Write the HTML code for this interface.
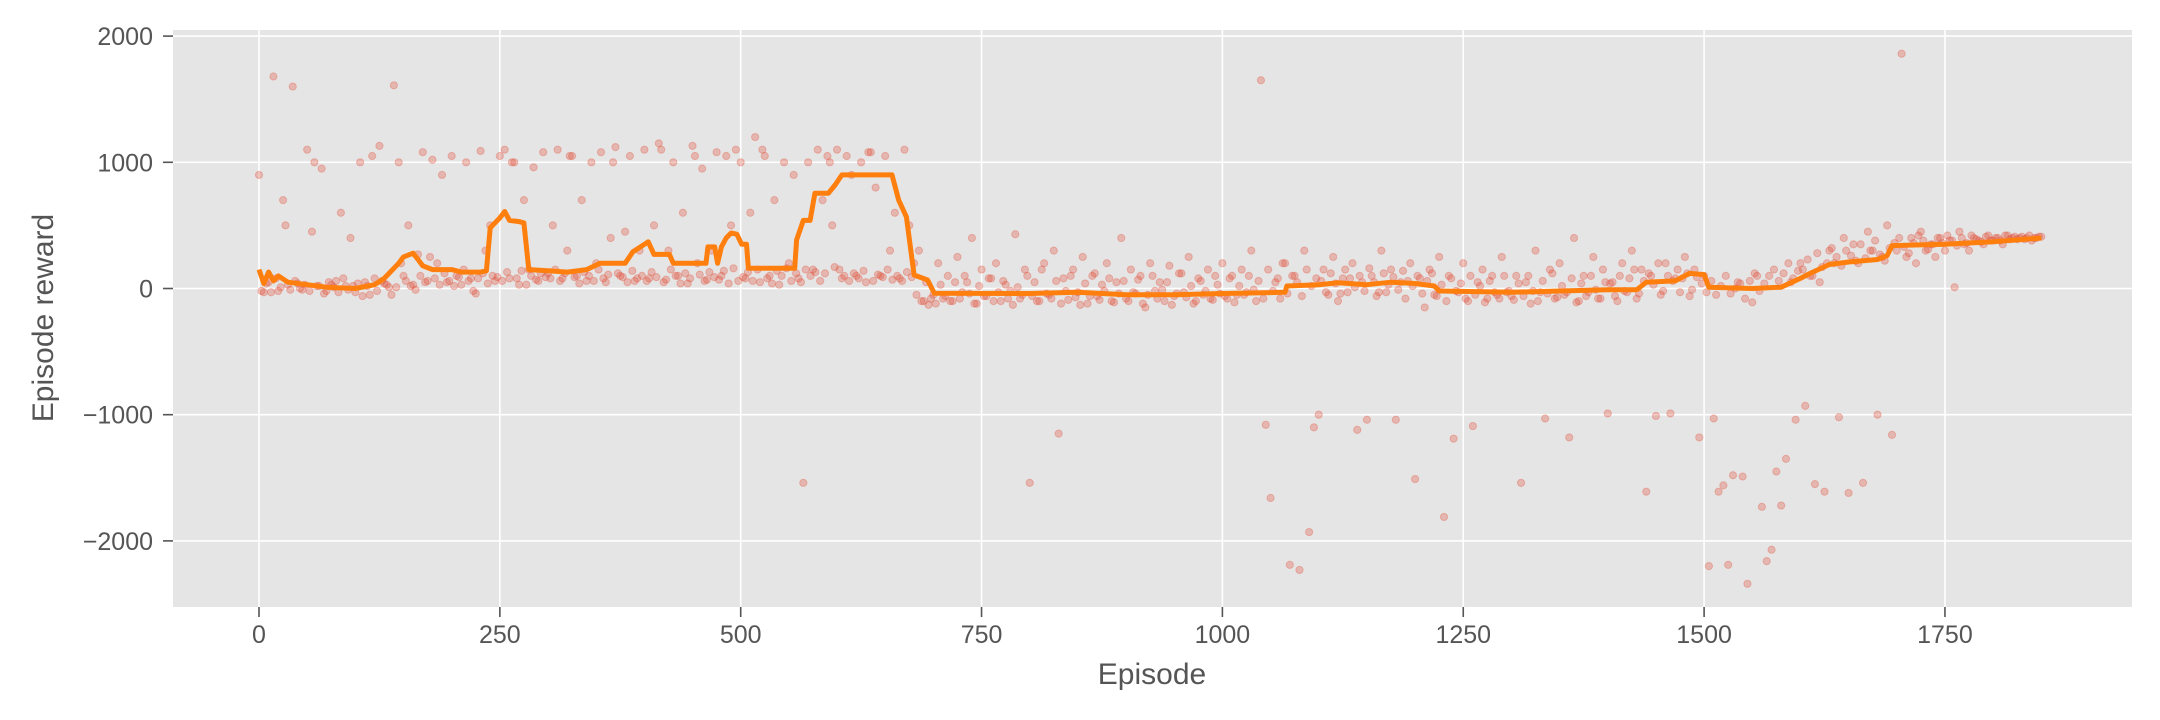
<!DOCTYPE html>
<html><head><meta charset="utf-8"><style>
html,body{margin:0;padding:0;background:#fff}
svg{display:block;font-family:"Liberation Sans","DejaVu Sans",sans-serif}
</style></head><body>
<svg id="chart" width="2160" height="720" viewBox="0 0 2160 720" xmlns="http://www.w3.org/2000/svg">
<rect x="173" y="30" width="1959" height="577" fill="#e5e5e5"/>
<g id="grid"></g>
<g id="ticks"></g>
<g id="points"></g>
<g id="line"></g>
<text x="1152" y="684" font-size="30" fill="#555" text-anchor="middle">Episode</text>
<text transform="translate(53,318) rotate(-90)" font-size="30" fill="#555" text-anchor="middle">Episode reward</text>
</svg>
<script>
const xTicks=[0,250,500,750,1000,1250,1500,1750];
const yTicks=[-2000,-1000,0,1000,2000];
const yTickLabels=["−2000","−1000","0","1000","2000"];
const scatterStep=5;
const rewards=[
900,-30,50,1680,-20,700,30,1600,40,-10,1100,450,20,950,-20,30,60,600,20,400,
-30,1000,50,-50,80,1130,40,10,1610,1000,100,500,30,270,1080,60,1020,200,900,50,
1050,100,30,1000,80,-40,1090,300,500,60,1050,1100,80,1000,30,700,150,960,60,1080,
120,500,1100,80,300,1050,100,700,60,1000,200,1080,50,400,1120,100,450,1050,60,300,
1100,80,500,1150,50,300,1000,100,600,40,1130,200,950,70,300,1080,100,1050,500,1100,
1000,80,600,1200,50,1050,100,700,30,1000,200,900,80,-1540,1000,150,1100,700,1050,500,
1100,80,1050,900,100,1000,50,1080,800,100,1050,300,600,80,1100,500,200,300,-100,-130,
-50,200,-80,100,-100,250,-30,50,400,-120,150,-60,80,200,-100,30,-20,430,-80,150,
-1540,50,-100,200,-50,300,-1150,80,-90,150,-30,250,-120,100,-60,30,200,-100,50,400,
-80,150,-40,100,-150,200,-20,50,-100,180,-60,120,-30,250,-120,80,-50,150,-90,30,
200,-80,100,-50,150,-30,300,-100,1650,-1080,-1660,50,-80,200,-2190,100,-2230,300,-1930,-1100,
-1000,150,-50,250,-100,80,-30,200,-1120,50,-1040,100,-60,300,-30,150,-1040,50,-80,200,
-1510,80,-150,150,-50,250,-1810,100,-1190,-30,200,-100,-1090,50,150,-80,100,-50,250,-30,
-60,100,-1540,50,-120,300,-30,-1030,150,-80,200,-50,-1180,400,-100,100,-30,250,-80,150,
-990,50,-100,200,-30,300,-80,150,-1610,100,-1010,-50,200,-990,80,-30,250,-60,150,-1180,
100,-2200,-1030,-1610,-1560,-2190,-1480,50,-1490,-2340,-110,100,-1730,-2160,-2070,-1450,-1720,-1350,50,-1040,
200,-930,100,-1550,50,-1610,300,200,-1020,400,-1620,350,200,-1540,450,300,-1000,250,500,-1160,
300,1860,250,400,200,450,300,350,250,400,300,380,10,450,350,300,400,380,350,420,
380,400,350,420,400,390,410,400,380,400,410];
const rewardsB=[
-20,40,-30,80,10,500,-10,60,0,30,-20,1000,20,-40,50,10,-30,80,-10,20,
40,-60,20,1050,-20,60,30,-50,10,200,60,20,-10,100,50,250,80,30,120,60,
20,90,150,60,-20,80,120,40,100,90,60,130,1000,80,140,30,100,70,120,90,
80,150,60,120,1050,90,40,130,100,60,150,80,110,1000,120,90,50,140,80,100,
60,130,90,1100,70,150,100,40,120,80,1050,110,60,130,90,70,140,40,160,60,
90,130,60,150,1100,80,40,140,100,160,60,120,50,150,100,130,60,120,1000,170,
150,100,60,120,80,140,1080,60,110,90,150,70,100,60,130,90,-50,-100,50,-80,
-120,30,-60,-100,50,-80,100,-40,-120,20,-60,80,-100,-30,60,-80,-130,10,-50,100,
-60,-100,150,-40,-80,60,-120,-20,100,-70,-130,40,-60,120,-90,-20,80,-110,-40,60,
-100,-30,70,-120,-50,100,-80,-10,50,-130,-40,120,-70,20,-100,60,-20,-80,100,-40,
-60,80,-110,20,-50,100,-10,60,-80,150,-20,80,200,-40,100,50,-60,150,20,80,
60,-30,120,40,-40,150,80,10,100,-20,160,50,-30,120,30,90,-10,140,60,20,
100,-40,60,120,-60,30,-100,80,-20,40,-80,100,-50,20,-110,60,-30,-80,100,-20,
-90,40,-60,100,-20,-100,60,-40,120,-70,20,-30,80,-110,40,-60,100,-10,-80,50,
40,-60,100,-20,80,150,-40,60,120,30,200,-20,100,60,150,80,120,-10,90,40,
-30,60,-50,20,100,-40,0,40,-80,60,120,-20,40,100,150,60,120,200,80,140,
150,230,100,280,170,200,320,250,180,300,260,220,350,240,300,380,270,220,320,360,
400,330,280,360,420,380,310,350,400,360,420,380,340,400,360,420,390,370,410,380,
400,380,420,390,410,400,390,420,400,410];
const avgEpisodes=[0,5,10,15,20,30,50,70,100,120,130,145,150,160,165,170,180,200,210,230,236,240,250,255,260,270,275,280,300,320,340,354,380,388,404,410,426,430,464,466,473,476,480,485,490,496,501,506,508,556,558,565,572,577,591,598,605,657,664,672,677,680,694,701,800,850,900,950,1000,1065,1067,1100,1120,1150,1175,1200,1220,1225,1300,1350,1400,1430,1440,1470,1485,1500,1505,1550,1580,1600,1610,1630,1650,1680,1690,1695,1750,1800,1850];
const avgValues=[150,40,130,60,100,50,30,10,0,30,80,200,250,280,230,180,150,150,130,130,140,480,560,610,540,530,520,150,140,130,150,200,200,290,370,270,270,200,200,330,330,200,330,400,440,430,350,350,160,160,385,540,540,755,755,820,900,900,700,567,280,107,67,-37,-40,-30,-50,-50,-40,-30,20,30,45,30,50,40,20,-20,-30,-20,-10,-10,50,60,120,110,10,0,10,80,120,190,210,230,260,340,350,370,400];

const X=e=>259+e*0.9634;
const Y=v=>288.5-v*0.1262;
const NS="http://www.w3.org/2000/svg";
function mk(t,a,p){const el=document.createElementNS(NS,t);for(const k in a)el.setAttribute(k,a[k]);p.appendChild(el);return el;}
const grid=document.getElementById('grid'),ticks=document.getElementById('ticks');
xTicks.forEach(t=>{
  const g=mk('line',{x1:X(t),x2:X(t),y1:30,y2:607,stroke:'#fff','stroke-width':1.6},grid);
  
  
  const tk=mk('line',{x1:X(t),x2:X(t),y1:607,y2:617,stroke:'#555','stroke-width':1.6},ticks);
  
  
  const tx=mk('text',{x:X(t),y:643,'font-size':25,fill:'#555','text-anchor':'middle'},ticks);
  
  
  tx.textContent=t;
});
yTicks.forEach((t,i)=>{
  const g=mk('line',{x1:173,x2:2132,y1:Y(t),y2:Y(t),stroke:'#fff','stroke-width':1.6},grid);
  
  
  const tk=mk('line',{x1:163,x2:173,y1:Y(t),y2:Y(t),stroke:'#555','stroke-width':1.6},ticks);
  
  
  const tx=mk('text',{x:153,y:Y(t)+9,'font-size':25,fill:'#555','text-anchor':'end'},ticks);
  
  
  tx.textContent=yTickLabels[i];
});
const pts=document.getElementById('points');
function drawPts(arr,off){
  arr.forEach((v,i)=>{
    const c=mk('circle',{cx:X(i*scatterStep+off),cy:Y(v),r:3.6,fill:'#E24A33','fill-opacity':0.3,stroke:'#E24A33','stroke-opacity':0.3,'stroke-width':1},pts);
    
    
  });
}
drawPts(rewards,0);
drawPts(rewardsB,2.5);
const d=avgEpisodes.map((e,i)=>(i?'L':'M')+X(e).toFixed(1)+' '+Y(avgValues[i]).toFixed(1)).join(' ');
const p=mk('path',{d:d,fill:'none',stroke:'#FF7F0E','stroke-width':5,'stroke-linejoin':'round'},document.getElementById('line'));


</script>
</body></html>
